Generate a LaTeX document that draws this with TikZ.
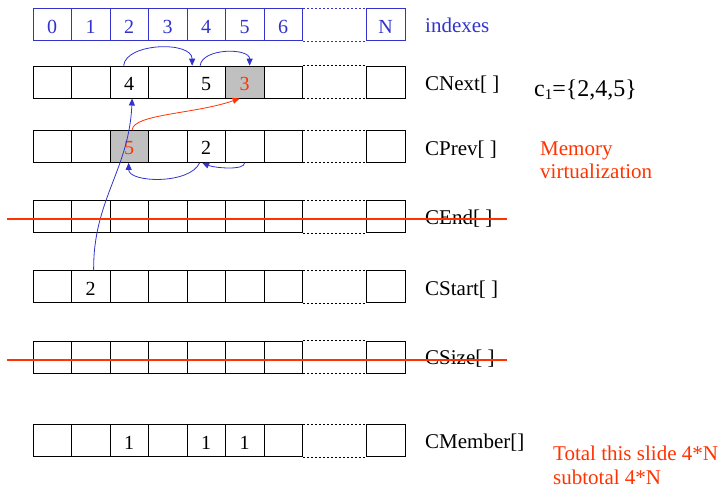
\documentclass[tikz,border=0pt]{standalone}
\usepackage{fontspec}
\setmainfont{Liberation Serif}
\usetikzlibrary{arrows.meta}

\definecolor{idxblue}{HTML}{3333CC}
\definecolor{hot}{HTML}{FF3300}
\definecolor{shade}{HTML}{C0C0C0}

\tikzset{
  cell/.style={draw, line width=0.8pt, minimum width=38.5pt, minimum height=32pt,
    inner sep=0pt, anchor=north west, text height=17pt, text depth=0pt,
    font=\fontsize{20}{24}\selectfont},
  gapline/.style={line width=0.8pt, dash pattern=on 2.5pt off 1.5pt},
  rowlabel/.style={anchor=base west, inner sep=0pt, font=\fontsize{21}{25}\selectfont},
  link/.style={draw=idxblue, line width=0.8pt, -{Triangle[length=7pt,width=6pt]}},
  hotlink/.style={draw=hot, line width=0.8pt, -{Triangle[length=7pt,width=6pt]}},
  strike/.style={draw=hot, line width=2pt},
}

% one array row: name, top y, line colour, cells i/content/fill, last cell text
\newcommand\cellrow[5]{%
  \foreach \ci/\cnt/\fl in {#4}{
    \node[cell, draw=#3, text=#3, fill=\fl] (#1-\ci) at ({32.5+38.5*\ci}, #2) {\cnt};
  }
  \node[cell, draw=#3, text=#3] (#1-N) at (366, #2) {#5};
  \draw[gapline, draw=#3] (#1-6.north east) -- (#1-N.north west)
                          (#1-6.south east) -- (#1-N.south west);
}

\begin{document}
\begin{tikzpicture}[x=1pt, y=-1pt]
\useasboundingbox (0,0) rectangle (723,488);

% arrays
\cellrow{ix}{8.3}{idxblue}{0/0/white,1/1/white,2/2/white,3/3/white,4/4/white,5/5/white,6/6/white}{N}
\cellrow{nx}{65.7}{black}{0//white,1//white,2/4/white,3//white,4/5/white,5/{\textcolor{hot}{3}}/shade,6//white}{}
\cellrow{pv}{130}{black}{0//white,1//white,2/{\textcolor{hot}{5}}/shade,3//white,4/2/white,5//white,6//white}{}
\cellrow{en}{200.3}{black}{0//white,1//white,2//white,3//white,4//white,5//white,6//white}{}
\cellrow{st}{270.3}{black}{0//white,1/2/white,2//white,3//white,4//white,5//white,6//white}{}
\cellrow{sz}{340.7}{black}{0//white,1//white,2//white,3//white,4//white,5//white,6//white}{}
\cellrow{mb}{424.3}{black}{0//white,1//white,2/1/white,3//white,4/1/white,5/1/white,6//white}{}

% row names
\node[rowlabel, text=idxblue] (l-ix) at (425,32.3) {indexes};
\node[rowlabel] (l-nx) at (425,90) {CNext[ ]};
\node[rowlabel] (l-pv) at (425,155) {CPrev[ ]};
\node[rowlabel] (l-en) at (425,224) {CEnd[ ]};
\node[rowlabel] (l-st) at (425,295.5) {CStart[ ]};
\node[rowlabel] (l-sz) at (425,364.5) {CSize[ ]};
\node[rowlabel] (l-mb) at (425,448.5) {CMember[]};

% notes
\node[anchor=base west, inner sep=0pt, font=\fontsize{24}{28}\selectfont] (cset) at (534,96)
  {c\raisebox{-3.5pt}{\fontsize{15}{15}\selectfont 1}=\{2,4,5\}};
\node[rowlabel, text=hot] (mem1) at (540,155) {Memory};
\node[rowlabel, text=hot] (mem2) at (540,178) {virtualization};
\node[rowlabel, text=hot] (tot1) at (553,460) {Total this slide 4*N};
\node[rowlabel, text=hot] (tot2) at (553,484) {subtotal 4*N};

% next links
\draw[link] ([xshift=-5.5pt]nx-2.north) .. controls +(2,-23) and +(0,-25) .. ([xshift=-14pt]nx-4.north);
\draw[link] ([xshift=-6pt]nx-4.north) .. controls +(2,-18) and +(0,-18) .. ([xshift=5pt]nx-5.north);
% prev links
\draw[link] ([xshift=0pt]pv-5.south) .. controls +(0,8) and +(12,5) .. ([xshift=-4pt]pv-4.south);
\draw[link] ([xshift=-6.5pt]pv-4.south) .. controls +(-10,22) and +(0,20) .. ([xshift=-0.5pt]pv-2.south);
% start pointer
\draw[link] ([xshift=3pt]st-1.north) .. controls (93,200) and (129,170) .. ([xshift=3pt]nx-2.south);
% virtualized prev -> next
\draw[hotlink] ([xshift=3pt]pv-2.north) .. controls +(1,-16) and (195,114) .. ([xshift=-5pt]nx-5.south);

% removed arrays
\coordinate (enL) at (7,219.3);
\coordinate (enR) at (507,219.3);
\coordinate (szL) at (7,360.3);
\coordinate (szR) at (507,360.3);
\draw[strike] (enL) -- (enR);
\draw[strike] (szL) -- (szR);
\end{tikzpicture}
\end{document}
